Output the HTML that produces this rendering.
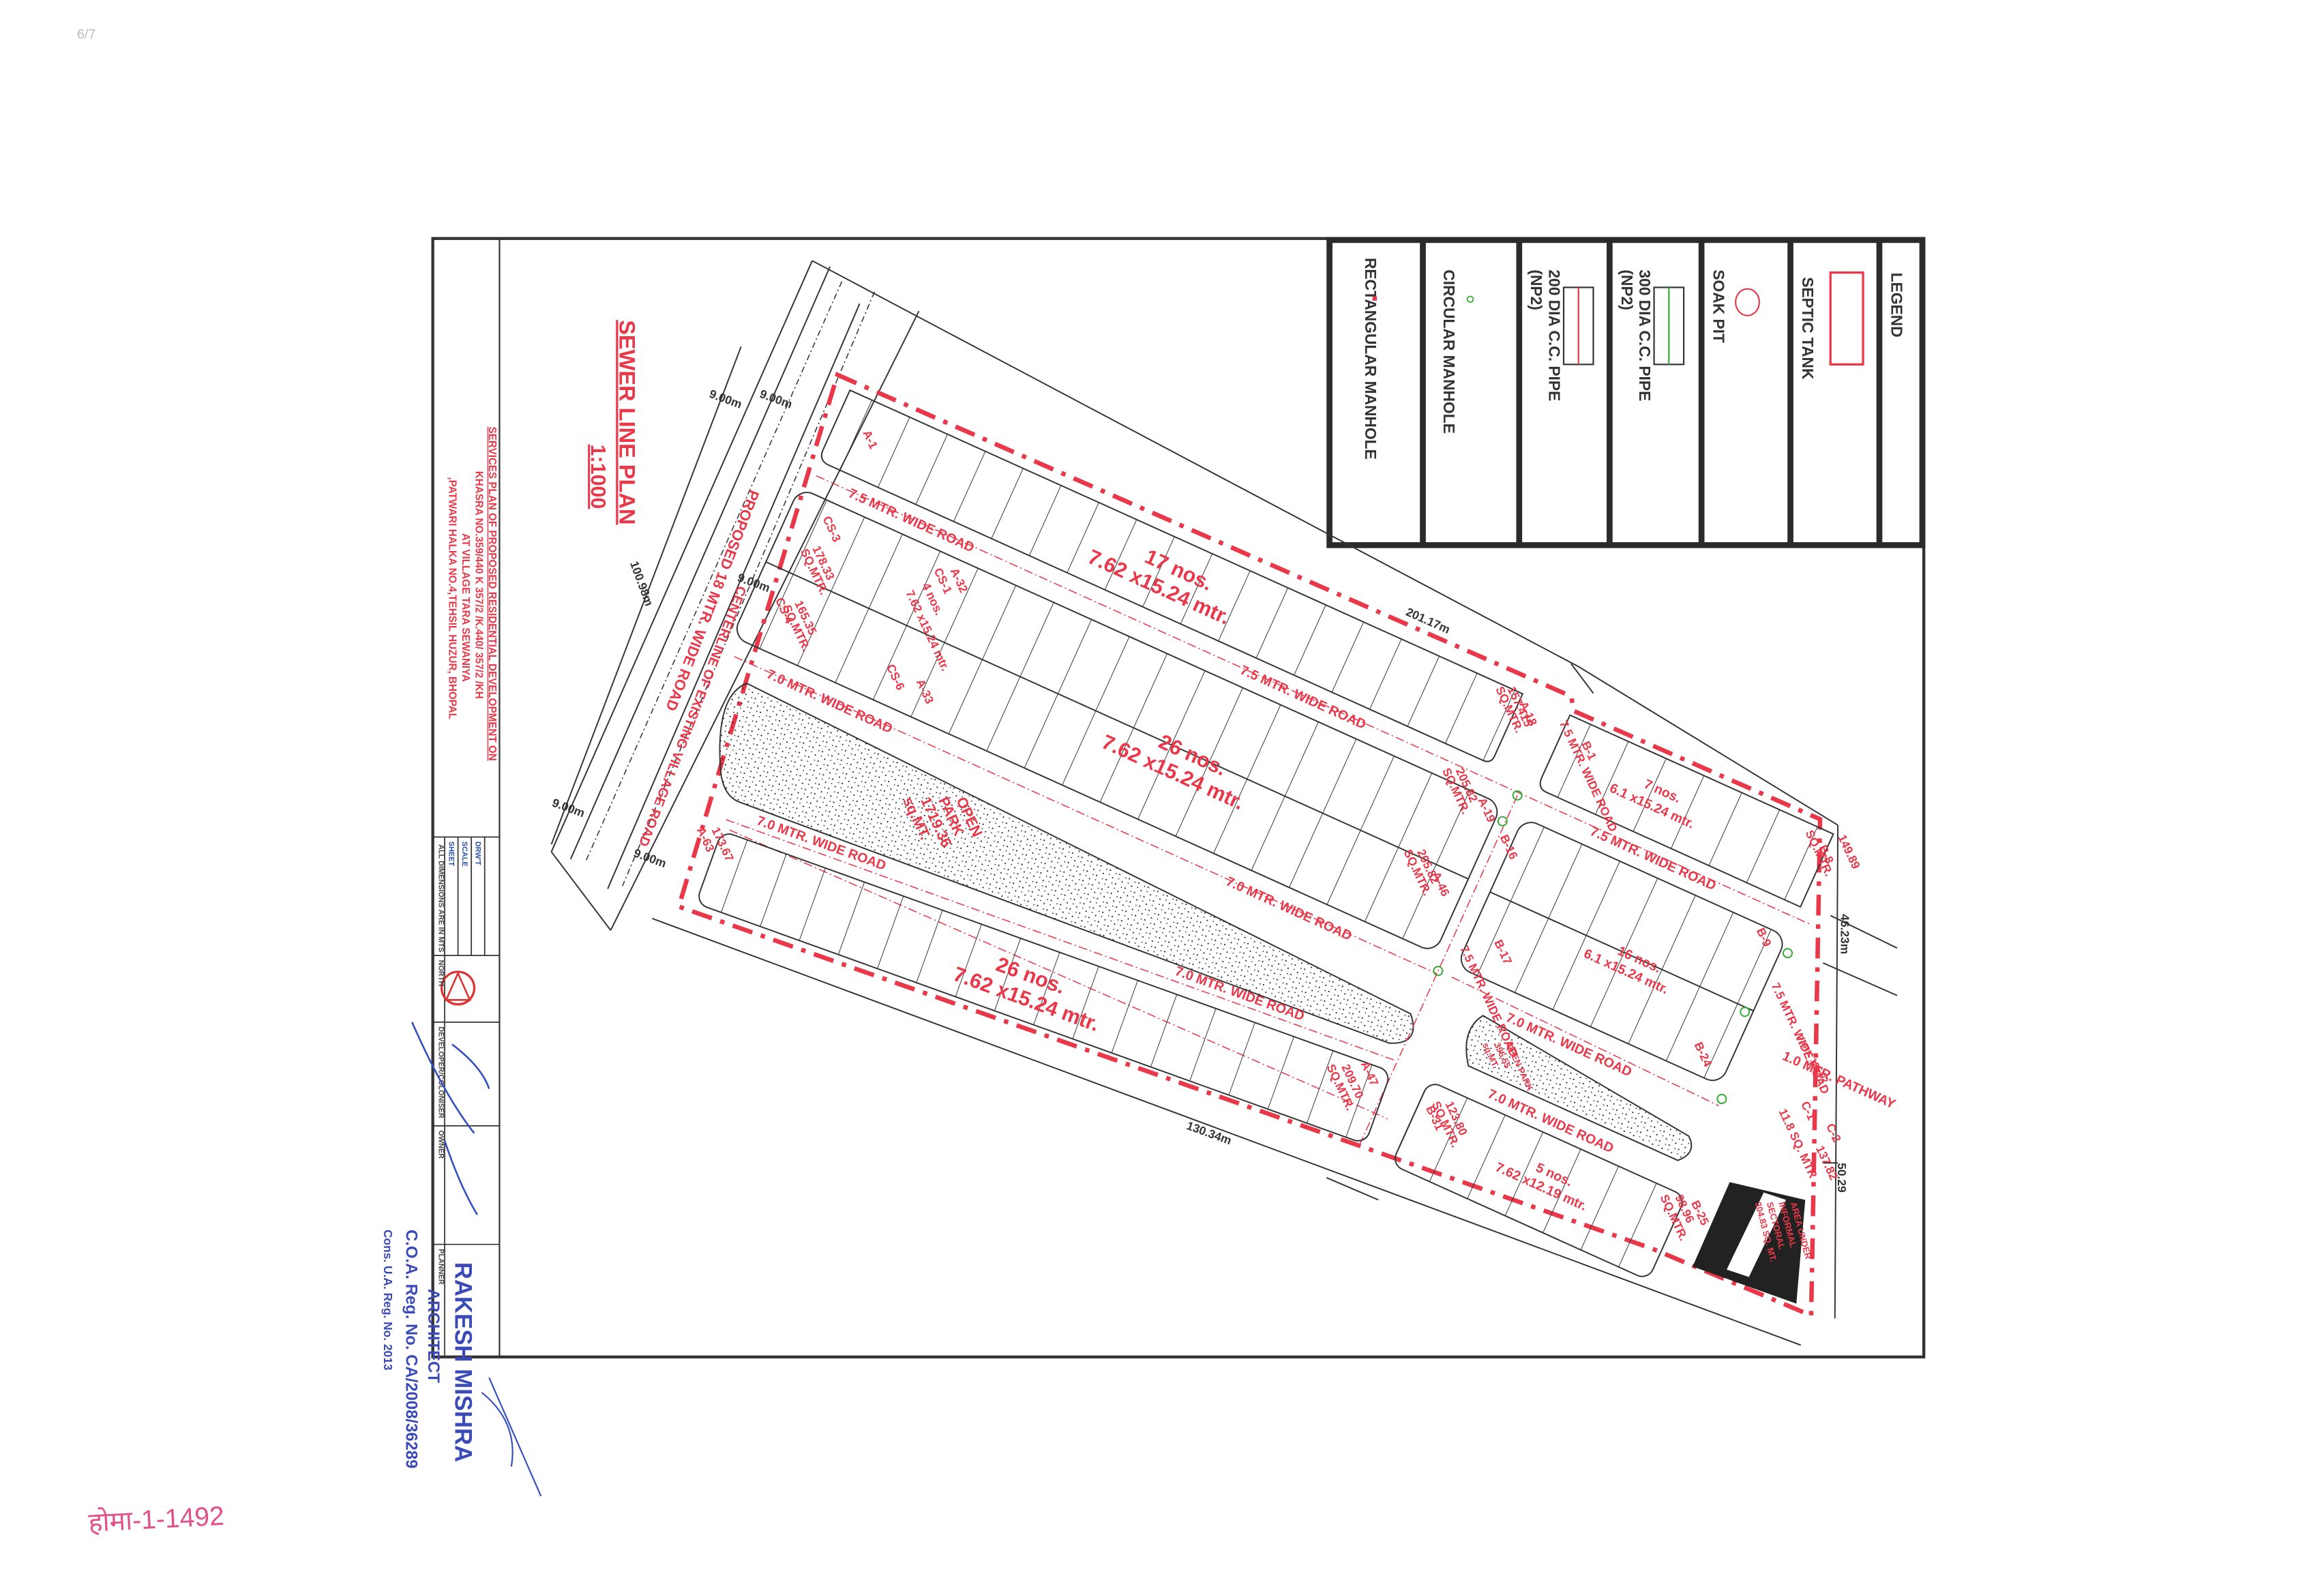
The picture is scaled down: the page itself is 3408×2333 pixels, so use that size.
<!DOCTYPE html>
<html><head><meta charset="utf-8"><style>
html,body{margin:0;padding:0;background:#fff;}
svg{display:block;}
text{font-family:"Liberation Sans",sans-serif;font-weight:bold;}
</style></head><body>
<svg width="3408" height="2333" viewBox="0 0 1568 1074" preserveAspectRatio="none" xmlns="http://www.w3.org/2000/svg">
<defs>
<pattern id="p28" patternUnits="userSpaceOnUse" width="28" height="400"><line x1="0" y1="0" x2="0" y2="400" stroke="#333" stroke-width="0.9"/></pattern>
<pattern id="dots" patternUnits="userSpaceOnUse" width="7" height="7"><circle cx="1" cy="2" r="0.5" fill="#222"/><circle cx="4.5" cy="5" r="0.5" fill="#222"/><circle cx="5" cy="1" r="0.4" fill="#222"/><circle cx="2" cy="5.5" r="0.4" fill="#222"/></pattern>
</defs>
<rect width="1568" height="1074" fill="#fff"/>

<rect x="292" y="161" width="1006" height="755" fill="none" stroke="#333" stroke-width="2"/>
<line x1="337" y1="161" x2="337" y2="916" stroke="#333" stroke-width="1"/>
<g stroke="#333" stroke-width="0.8" fill="none">
<line x1="292" y1="565" x2="337" y2="565"/>
<line x1="292" y1="645" x2="337" y2="645"/>
<line x1="292" y1="690" x2="337" y2="690"/>
<line x1="292" y1="760" x2="337" y2="760"/>
<line x1="292" y1="840" x2="337" y2="840"/>
<line x1="300" y1="565" x2="300" y2="916"/>
<line x1="309" y1="565" x2="309" y2="645"/>
<line x1="318" y1="565" x2="318" y2="645"/>
<line x1="327" y1="565" x2="327" y2="645"/>
</g>
<circle cx="309" cy="667" r="11" fill="none" stroke="#d33" stroke-width="1.5"/>
<path d="M309 657 L301 675 L317 675 Z" fill="none" stroke="#d33" stroke-width="1.2"/>
<g font-size="5" fill="#2a4fa8">
<text transform="translate(303,568) rotate(90)">SHEET</text>
<text transform="translate(312,568) rotate(90)">SCALE</text>
<text transform="translate(321,568) rotate(90)">DRW'T</text>
<text transform="translate(296,570) rotate(90)" fill="#444">ALL DIMENSIONS ARE IN MTS</text>
<text transform="translate(296,648) rotate(90)" fill="#444">NORTH</text>
<text transform="translate(296,693) rotate(90)" fill="#444">DEVELOPER/COLONISER</text>
<text transform="translate(296,763) rotate(90)" fill="#444">OWNER</text>
<text transform="translate(296,843) rotate(90)" fill="#444">PLANNER</text>
</g>
<g font-size="7" fill="#e8384a">
<text transform="translate(330,288) rotate(90)" text-decoration="underline">SERVICES  PLAN OF PROPOSED RESIDENTIAL DEVELOPMENT ON</text>
<text transform="translate(321,318) rotate(90)">KHASRA NO.359/440 K 357/2 /K.440/ 357/2 /KH</text>
<text transform="translate(312,360) rotate(90)">AT VILLAGE TARA SEWANIYA</text>
<text transform="translate(303,322) rotate(90)">,PATWARI HALKA NO.4,TEHSIL HUZUR, BHOPAL</text>
</g>
<text transform="translate(418,216) rotate(90)" font-size="15" fill="#e8384a" text-decoration="underline">SEWER LINE PLAN</text>
<text transform="translate(399,300) rotate(90)" font-size="14" fill="#e8384a" text-decoration="underline">1:1000</text>

<g stroke="#2b2b2b" stroke-width="4" fill="none">
<rect x="897" y="162" width="400" height="206"/>
<line x1="960" y1="162" x2="960" y2="368"/>
<line x1="1025" y1="162" x2="1025" y2="368"/>
<line x1="1086" y1="162" x2="1086" y2="368"/>
<line x1="1148" y1="162" x2="1148" y2="368"/>
<line x1="1208" y1="162" x2="1208" y2="368"/>
<line x1="1268" y1="162" x2="1268" y2="368"/>
</g>
<g font-size="10.5" fill="#333">
<text transform="translate(1276,184) rotate(90)">LEGEND</text>
<text transform="translate(1216,187) rotate(90)">SEPTIC TANK</text>
<text transform="translate(1156,182) rotate(90)">SOAK PIT</text>
<text transform="translate(1106,182) rotate(90)">300 DIA C.C. PIPE</text>
<text transform="translate(1094,182) rotate(90)">(NP2)</text>
<text transform="translate(1045,182) rotate(90)">200 DIA C.C. PIPE</text>
<text transform="translate(1033,182) rotate(90)">(NP2)</text>
<text transform="translate(974,182) rotate(90)">CIRCULAR MANHOLE</text>
<text transform="translate(921,174) rotate(90)">RECTANGULAR MANHOLE</text>
</g>
<rect x="1235" y="184" width="22" height="62" fill="none" stroke="#e8384a" stroke-width="1.5"/>
<ellipse cx="1179" cy="204" rx="8" ry="9" fill="none" stroke="#e8384a" stroke-width="1"/>
<rect x="1116" y="194" width="20" height="52" fill="none" stroke="#333" stroke-width="1"/>
<line x1="1126" y1="194" x2="1126" y2="246" stroke="#3a3" stroke-width="1"/>
<rect x="1055" y="194" width="20" height="52" fill="none" stroke="#333" stroke-width="1"/>
<line x1="1065" y1="194" x2="1065" y2="246" stroke="#e8384a" stroke-width="1"/>
<circle cx="992" cy="202" r="2" fill="none" stroke="#3a3" stroke-width="0.8"/>
<rect x="926" y="200" width="3" height="3" fill="#e8384a"/>

<g stroke="#333" stroke-width="0.9" fill="none">
<line x1="548" y1="176" x2="1065" y2="450"/>
<line x1="1065" y1="450" x2="1240" y2="557"/>
<line x1="548" y1="176" x2="372" y2="575"/>
<line x1="560" y1="180" x2="385" y2="580"/>
<line x1="620" y1="210" x2="412" y2="628"/>
<line x1="500" y1="234" x2="372" y2="570"/>
<line x1="580" y1="205" x2="410" y2="600"/>
<line x1="372" y1="575" x2="412" y2="628"/>
<line x1="440" y1="620" x2="1215" y2="908"/>
<line x1="1240" y1="557" x2="1238" y2="890"/>
<line x1="1235" y1="618" x2="1280" y2="640"/>
<line x1="1230" y1="650" x2="1280" y2="672"/>
<line x1="1230" y1="785" x2="1240" y2="785"/>
<line x1="1060" y1="448" x2="1075" y2="468"/>
<line x1="895" y1="795" x2="930" y2="810"/>
</g>
<g stroke="#333" stroke-width="0.7" stroke-dasharray="4 2 1 2" fill="none">
<line x1="568" y1="190" x2="395" y2="582"/>
<line x1="590" y1="197" x2="420" y2="598"/>
</g>

<path d="M565 253 L1060 470 L1062 480 L1228 553 L1222 888 L1115 843 L458 612 Z" fill="none" stroke="#e8384a" stroke-width="3" stroke-dasharray="14 6 3 6"/>

<g transform="translate(565,253) rotate(24.3)">
  <path d="M12 6 L510 6 L510 52 Q510 58 504 58 L20 58 Q12 58 12 50 Z" fill="url(#p28)" stroke="#333" stroke-width="0.9"/>
  <rect x="8" y="80" width="520" height="110" rx="10" fill="url(#p28)" stroke="#333" stroke-width="0.9"/>
  <line x1="8" y1="135" x2="528" y2="135" stroke="#333" stroke-width="0.9"/>
  <path d="M545 6 L740 6 L740 60 L552 60 Q545 60 545 52 Z" fill="url(#p28)" stroke="#333" stroke-width="0.9"/>
  <rect x="545" y="82" width="195" height="110" rx="10" fill="url(#p28)" stroke="#333" stroke-width="0.9"/>
  <line x1="545" y1="137" x2="740" y2="137" stroke="#333" stroke-width="0.9"/>
  <path d="M30 215 Q15 230 35 270 Q45 292 60 290 L525 258 Q545 250 530 234 Z" fill="url(#dots)" stroke="#333" stroke-width="0.9"/>
  <path d="M575 215 Q565 230 580 250 L735 250 Q745 240 735 232 Z" fill="url(#dots)" stroke="#333" stroke-width="0.9"/>
  <rect x="560" y="270" width="190" height="62" rx="8" fill="url(#p28)" stroke="#333" stroke-width="0.9"/>
  <g stroke="#e8384a" stroke-width="0.7" stroke-dasharray="6 2 1 2" fill="none">
    <line x1="15" y1="68" x2="750" y2="68"/>
    <line x1="15" y1="202" x2="535" y2="202"/>
    <line x1="535" y1="70" x2="535" y2="330"/>
    <line x1="545" y1="200" x2="745" y2="205"/>
    <line x1="60" y1="310" x2="545" y2="305"/>
  </g>
  <g fill="none" stroke="#3a3" stroke-width="0.9">
    <circle cx="535" cy="70" r="3"/><circle cx="533" cy="90" r="3"/><circle cx="535" cy="200" r="3"/>
    <circle cx="745" cy="92" r="3"/><circle cx="735" cy="140" r="3"/><circle cx="745" cy="200" r="3"/>
  </g>
  <g font-size="9" fill="#e8384a">
    <text x="40" y="72">7.5 MTR. WIDE ROAD</text>
    <text x="330" y="72">7.5 MTR. WIDE ROAD</text>
    <text x="590" y="74">7.5 MTR. WIDE ROAD</text>
    <text x="40" y="206">7.0 MTR. WIDE ROAD</text>
    <text x="380" y="206">7.0 MTR. WIDE ROAD</text>
    <text x="590" y="212">7.0 MTR. WIDE ROAD</text>
    <text x="600" y="264">7.0 MTR. WIDE ROAD</text>
  </g>
  <g font-size="14" fill="#e8384a">
    <text x="240" y="30">17 nos.</text>
    <text x="205" y="46">7.62 x15.24 mtr.</text>
    <text x="300" y="140">26 nos.</text>
    <text x="265" y="156">7.62 x15.24 mtr.</text>
  </g>
  <g font-size="9" fill="#e8384a">
    <text x="610" y="30">7 nos.</text>
    <text x="590" y="42">6.1 x15.24 mtr.</text>
    <text x="640" y="140">16 nos.</text>
    <text x="620" y="151">6.1 x15.24 mtr.</text>
    <text x="650" y="296">5 nos.</text>
    <text x="625" y="307">7.62 x12.19 mtr.</text>
  </g>
</g>
<g transform="translate(458,612) rotate(19.8)">
  <rect x="10" y="-58" width="480" height="52" rx="8" fill="url(#p28)" stroke="#333" stroke-width="0.9"/>
  <line x1="10" y1="-66" x2="490" y2="-66" stroke="#e8384a" stroke-width="0.7" stroke-dasharray="6 2 1 2"/>
  <text x="30" y="-70" font-size="9" fill="#e8384a">7.0 MTR. WIDE ROAD</text>
  <text x="330" y="-70" font-size="9" fill="#e8384a">7.0 MTR. WIDE ROAD</text>
  <text x="215" y="-32" font-size="14" fill="#e8384a">26 nos.</text>
  <text x="190" y="-16" font-size="14" fill="#e8384a">7.62 x15.24 mtr.</text>
</g>
<g font-size="10" fill="#e8384a">
<text transform="translate(645,540) rotate(65)">OPEN</text>
<text transform="translate(633,540) rotate(65)">PARK</text>
<text transform="translate(621,540) rotate(65)">1719.36</text>
<text transform="translate(609,540) rotate(65)">sq.MT.</text>
</g>
<g font-size="6" fill="#e8384a">
<text transform="translate(1016,705) rotate(65)">OPEN PARK</text>
<text transform="translate(1008,705) rotate(65)">395.55</text>
<text transform="translate(1000,705) rotate(65)">sq.MT.</text>
</g>
<g font-size="8" fill="#e8384a">
<text transform="translate(582,292) rotate(65)">A-1</text>
<text transform="translate(641,385) rotate(65)">A-32</text>
<text transform="translate(630,385) rotate(65)">CS-1</text>
<text transform="translate(611,400) rotate(65)">7.62 x15.24 mtr.</text>
<text transform="translate(622,395) rotate(65)">4 nos.</text>
<text transform="translate(555,350) rotate(65)">CS-3</text>
<text transform="translate(523,405) rotate(65)">CS-4</text>
<text transform="translate(548,370) rotate(65)">178.33</text>
<text transform="translate(540,372) rotate(65)">SQ.MTR.</text>
<text transform="translate(536,407) rotate(65)">165.35</text>
<text transform="translate(528,410) rotate(65)">SQ.MTR.</text>
<text transform="translate(618,460) rotate(65)">A-33</text>
<text transform="translate(598,450) rotate(65)">CS-6</text>
<text transform="translate(1025,475) rotate(65)">A-18</text>
<text transform="translate(1017,465) rotate(65)">157.415</text>
<text transform="translate(1009,465) rotate(65)">SQ.MTR.</text>
<text transform="translate(1052,488) rotate(65)">7.5 MTR. WIDE ROAD</text>
<text transform="translate(997,540) rotate(65)">A-19</text>
<text transform="translate(982,520) rotate(65)">205.82</text>
<text transform="translate(973,520) rotate(65)">SQ.MTR.</text>
<text transform="translate(966,590) rotate(65)">A-46</text>
<text transform="translate(956,575) rotate(65)">205.82</text>
<text transform="translate(947,575) rotate(65)">SQ.MTR.</text>
<text transform="translate(985,640) rotate(65)">7.5 MTR. WIDE ROAD</text>
<text transform="translate(1067,502) rotate(65)">B-1</text>
<text transform="translate(1012,565) rotate(65)">B-16</text>
<text transform="translate(1008,636) rotate(65)">B-17</text>
<text transform="translate(1185,628) rotate(65)">B-9</text>
<text transform="translate(1143,705) rotate(65)">B-24</text>
<text transform="translate(1227,572) rotate(65)">B-8</text>
<text transform="translate(1240,565) rotate(65)">149.89</text>
<text transform="translate(1218,562) rotate(65)">SQ.MTR.</text>
<text transform="translate(1195,665) rotate(65)">7.5 MTR. WIDE ROAD</text>
<text transform="translate(918,718) rotate(65)">A-47</text>
<text transform="translate(905,720) rotate(65)">209.70</text>
<text transform="translate(895,720) rotate(65)">SQ.MTR.</text>
<text transform="translate(480,560) rotate(65)">173.67</text>
<text transform="translate(470,560) rotate(65)">A-63</text>
<text transform="translate(962,748) rotate(65)">B-31</text>
<text transform="translate(975,745) rotate(65)">123.80</text>
<text transform="translate(966,745) rotate(65)">SQ.MTR.</text>
<text transform="translate(1141,812) rotate(65)">B-25</text>
<text transform="translate(1130,808) rotate(65)">98.96</text>
<text transform="translate(1120,808) rotate(65)">SQ.MTR.</text>
<text transform="translate(1215,745) rotate(65)">C-1</text>
<text transform="translate(1232,760) rotate(65)">C-2</text>
<text transform="translate(1200,750) rotate(65)">11.8 SQ. MTR</text>
<text transform="translate(1225,775) rotate(65)">137.82</text>
</g>
<g font-size="9" fill="#e8384a">
<text transform="translate(1202,715) rotate(24)">1.0 MTR. PATHWAY</text>
<text transform="translate(1212,700) rotate(60)" font-size="6">PARK 125.02</text>
</g>
<path d="M1167 798 L1218 810 L1212 880 L1142 855 Z" fill="#222"/>
<path d="M1190 805 L1205 810 L1180 862 L1165 857 Z" fill="#fff"/>
<g font-size="6" fill="#e8384a">
<text transform="translate(1208,812) rotate(75)">AREA UNDER</text>
<text transform="translate(1200,812) rotate(75)">INFORMAL</text>
<text transform="translate(1192,812) rotate(75)">SECTORAL</text>
<text transform="translate(1184,812) rotate(75)">304.83 SQ. MT.</text>
</g>
<g font-size="8" fill="#333">
<text x="948" y="415" transform="rotate(24 948 415)">201.17m</text>
<text x="800" y="762" transform="rotate(20 800 762)">130.34m</text>
<text transform="translate(1242,617) rotate(90)">46.23m</text>
<text transform="translate(1240,785) rotate(90)">50.29</text>
<text transform="translate(425,380) rotate(70)">100.98m</text>
<text x="478" y="268" transform="rotate(20 478 268)">9.00m</text>
<text x="512" y="268" transform="rotate(20 512 268)">9.00m</text>
<text x="497" y="392" transform="rotate(20 497 392)">9.00m</text>
<text x="372" y="544" transform="rotate(20 372 544)">9.00m</text>
<text x="427" y="578" transform="rotate(20 427 578)">9.00m</text>
</g>
<g font-size="10" fill="#e8384a">
<text transform="translate(506,330) rotate(111)">PROPOSED 18 MTR. WIDE ROAD</text>
<text transform="translate(498,395) rotate(111)" font-size="9">CENTERLINE OF EXISTING VILLAGE ROAD</text>
</g>

<path d="M278 690 Q300 740 320 765 M305 705 Q325 720 330 735" fill="none" stroke="#3550c0" stroke-width="1.2"/>
<path d="M300 770 Q310 800 322 820" fill="none" stroke="#3550c0" stroke-width="1.2"/>
<path d="M330 930 L365 1010 M325 940 Q350 960 345 990" fill="none" stroke="#3550c0" stroke-width="1"/>
<g fill="#3a4bb8">
<text transform="translate(307,852) rotate(90)" font-size="16">RAKESH MISHRA</text>
<text transform="translate(289,870) rotate(90)" font-size="11">ARCHITECT</text>
<text transform="translate(274,830) rotate(90)" font-size="11">C.O.A. Reg. No. CA/2008/36289</text>
<text transform="translate(259,830) rotate(90)" font-size="8">Cons. U.A. Reg. No. 2013</text>
</g>
<text x="60" y="1034" font-size="18" style="font-weight:normal" fill="#e0508a" font-family="'Liberation Sans','Noto Sans CJK SC',sans-serif" transform="rotate(-3 60 1034)">होमा-1-1492</text>
<text x="52" y="26" font-size="9" style="font-weight:normal" fill="#bbb">6/7</text>
</svg>
</body></html>
